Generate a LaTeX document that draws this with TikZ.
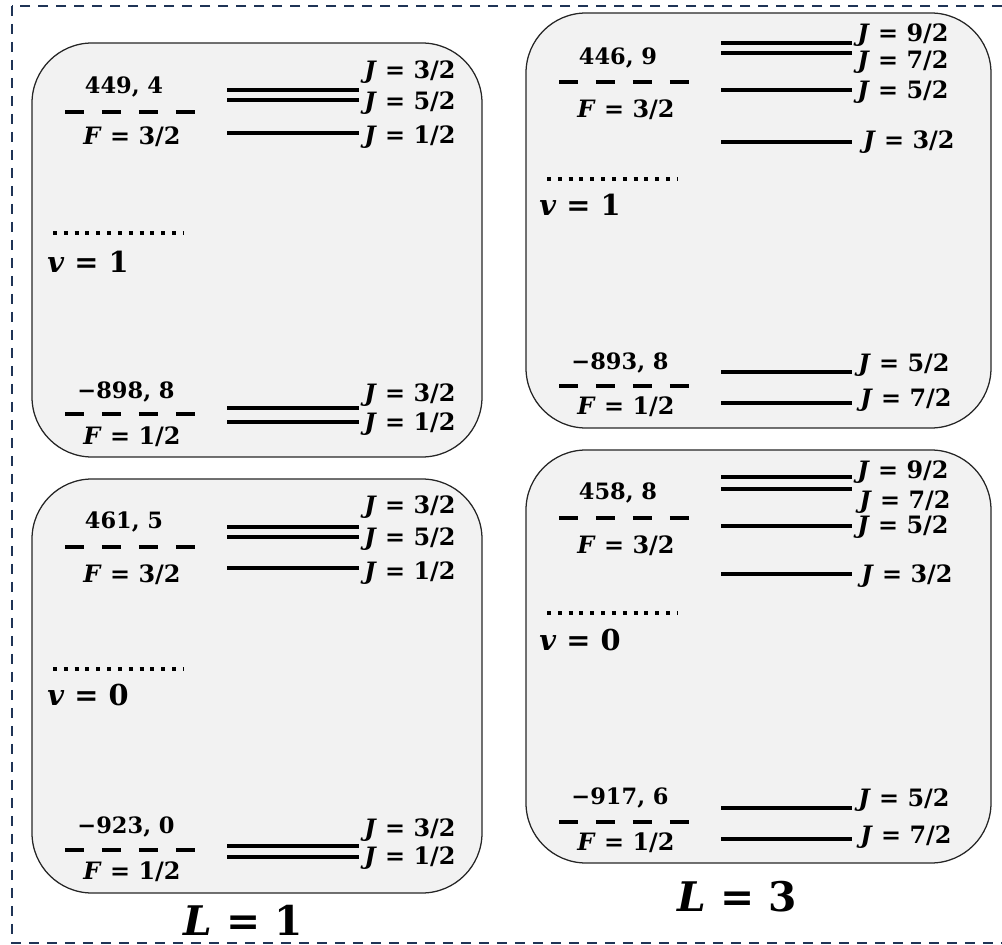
\documentclass[tikz,border=0pt]{standalone}
\usepackage{fontspec}
\usepackage{tikz}
\usetikzlibrary{positioning}

\newfontfamily\lvlfont{DejaVu Serif}
\definecolor{frameblue}{RGB}{31,52,86}

\begin{document}
\begin{tikzpicture}[
    x = 0.025cm,
    y = -0.025cm,
    panel/.style = {draw=black!85, fill=black!5, line width=0.9pt, rounded corners=1.5cm},
    level/.style = {line width=2.8pt},
    hfs/.style = {line width=2.8pt, dash pattern=on 13.5pt off 12.8pt},
    vib/.style = {line width=2.8pt, dash pattern=on 2.8pt off 4.9pt},
    jlab/.style = {anchor=west, inner sep=0pt, font=\lvlfont\bfseries\fontsize{17}{19}\selectfont},
    flab/.style = {inner sep=0pt, font=\lvlfont\bfseries\fontsize{17}{19}\selectfont},
    elab/.style = {inner sep=0pt, font=\lvlfont\bfseries\fontsize{16}{18}\selectfont},
    vlab/.style = {anchor=west, inner sep=0pt, font=\lvlfont\bfseries\fontsize{20.5}{22}\selectfont},
    llab/.style = {inner sep=0pt, font=\lvlfont\bfseries\fontsize{29}{32}\selectfont}
]
\useasboundingbox (0,0) rectangle (1002,945);
\clip (0,0) rectangle (1002,945);

% 1. Outer dashed frame
\draw[frameblue, line width=1.4pt, dash pattern=on 7pt off 5.8pt] (12,6) rectangle (1010,943);

% 2. The four rounded panels
\draw[panel] (32,43) rectangle (482,457);
\draw[panel] (526,13) rectangle (991,428);
\draw[panel] (32,479) rectangle (482,893);
\draw[panel] (526,450) rectangle (991,863);

% 3. Panel L=1, v=1
\node[elab] (e1a) at (124,87) {449, 4};
\draw[hfs] (65,112) -- (195,112);
\node[flab] (f1a) at (132,137) {\textit{F} = 3/2};
\draw[level] (227,90) -- (359,90);
\draw[level] (227,100) -- (359,100);
\draw[level] (227,133) -- (359,133);
\node[jlab] (j1a) at (364,72) {\textit{J} = 3/2};
\node[jlab] (j1b) at (364,103) {\textit{J} = 5/2};
\node[jlab] (j1c) at (364,137) {\textit{J} = 1/2};

\draw[vib] (53,233) -- (183,233);
\node[vlab] (v1) at (47,262) {\textit{v} = 1};

\node[elab] (e1b) at (126,392) {−898, 8};
\draw[hfs] (65,414) -- (195,414);
\node[flab] (f1b) at (132,437) {\textit{F} = 1/2};
\draw[level] (227,408) -- (359,408);
\draw[level] (227,422) -- (359,422);
\node[jlab] (j1d) at (364,395) {\textit{J} = 3/2};
\node[jlab] (j1e) at (364,424) {\textit{J} = 1/2};

% 4. Panel L=3, v=1
\node[elab] (e2a) at (618,58) {446, 9};
\draw[hfs] (559,82) -- (689,82);
\node[flab] (f2a) at (626,110) {\textit{F} = 3/2};
\draw[level] (721,43) -- (852,43);
\draw[level] (721,53) -- (852,53);
\draw[level] (721,90) -- (852,90);
\draw[level] (721,142) -- (852,142);
\node[jlab] (j2a) at (857,35) {\textit{J} = 9/2};
\node[jlab] (j2b) at (857,62) {\textit{J} = 7/2};
\node[jlab] (j2c) at (857,92) {\textit{J} = 5/2};
\node[jlab] (j2d) at (863,142) {\textit{J} = 3/2};

\draw[vib] (547,179) -- (677,179);
\node[vlab] (v2) at (539,205) {\textit{v} = 1};

\node[elab] (e2b) at (620,363) {−893, 8};
\draw[hfs] (559,386) -- (689,386);
\node[flab] (f2b) at (626,407) {\textit{F} = 1/2};
\draw[level] (721,372) -- (852,372);
\draw[level] (721,403) -- (852,403);
\node[jlab] (j2e) at (858,365) {\textit{J} = 5/2};
\node[jlab] (j2f) at (860,400) {\textit{J} = 7/2};

% 5. Panel L=1, v=0
\node[elab] (e3a) at (124,522) {461, 5};
\draw[hfs] (65,547) -- (195,547);
\node[flab] (f3a) at (132,575) {\textit{F} = 3/2};
\draw[level] (227,527) -- (359,527);
\draw[level] (227,537) -- (359,537);
\draw[level] (227,568) -- (359,568);
\node[jlab] (j3a) at (364,507) {\textit{J} = 3/2};
\node[jlab] (j3b) at (364,539) {\textit{J} = 5/2};
\node[jlab] (j3c) at (364,573) {\textit{J} = 1/2};

\draw[vib] (53,669) -- (183,669);
\node[vlab] (v3) at (47,695) {\textit{v} = 0};

\node[elab] (e3b) at (126,827) {−923, 0};
\draw[hfs] (65,850) -- (195,850);
\node[flab] (f3b) at (132,872) {\textit{F} = 1/2};
\draw[level] (227,846) -- (359,846);
\draw[level] (227,857) -- (359,857);
\node[jlab] (j3d) at (364,830) {\textit{J} = 3/2};
\node[jlab] (j3e) at (364,858) {\textit{J} = 1/2};

% 6. Panel L=3, v=0
\node[elab] (e4a) at (618,493) {458, 8};
\draw[hfs] (559,518) -- (689,518);
\node[flab] (f4a) at (626,546) {\textit{F} = 3/2};
\draw[level] (721,477) -- (852,477);
\draw[level] (721,489) -- (852,489);
\draw[level] (721,526) -- (852,526);
\draw[level] (721,574) -- (852,574);
\node[jlab] (j4a) at (857,472) {\textit{J} = 9/2};
\node[jlab] (j4b) at (859,502) {\textit{J} = 7/2};
\node[jlab] (j4c) at (857,527) {\textit{J} = 5/2};
\node[jlab] (j4d) at (861,576) {\textit{J} = 3/2};

\draw[vib] (547,613) -- (677,613);
\node[vlab] (v4) at (539,640) {\textit{v} = 0};

\node[elab] (e4b) at (620,798) {−917, 6};
\draw[hfs] (559,822) -- (689,822);
\node[flab] (f4b) at (626,843) {\textit{F} = 1/2};
\draw[level] (721,808) -- (852,808);
\draw[level] (721,839) -- (852,839);
\node[jlab] (j4e) at (858,800) {\textit{J} = 5/2};
\node[jlab] (j4f) at (860,837) {\textit{J} = 7/2};

% 7. Column titles
\node[llab] (l1) at (243,920) {\textit{L} = 1};
\node[llab] (l3) at (737,897) {\textit{L} = 3};

\end{tikzpicture}
\end{document}
